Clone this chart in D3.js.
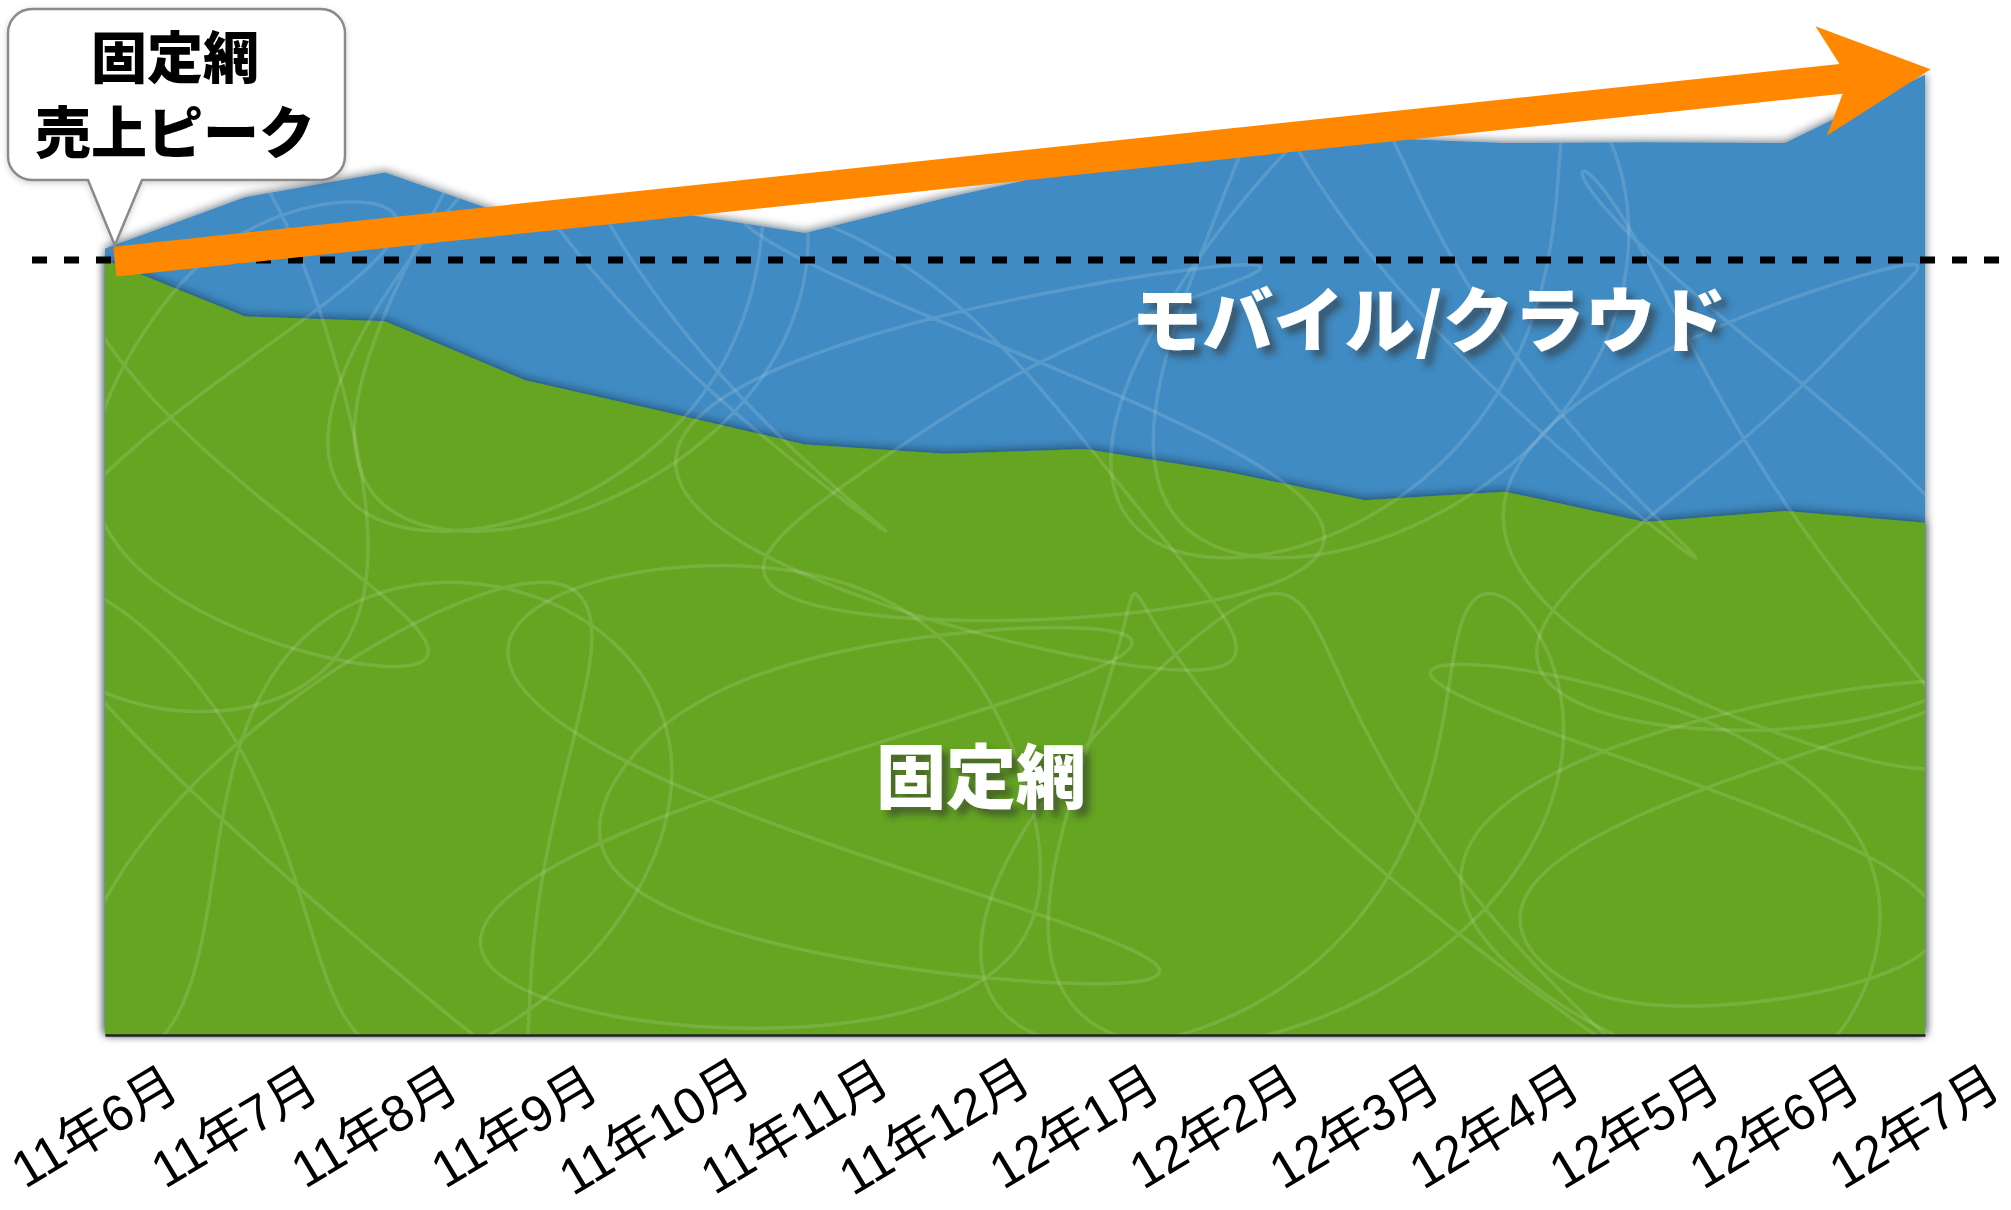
<!DOCTYPE html>
<html><head><meta charset="utf-8">
<script src="https://cdn.jsdelivr.net/npm/d3@7"></script>
<style>
body{margin:0;background:#fff}
svg{display:block}
</style>
</head><body>
<svg id="chart" width="2011" height="1210"></svg>
<script>
// ---------- data ----------
const months = ["11年6月","11年7月","11年8月","11年9月","11年10月","11年11月","11年12月",
                "12年1月","12年2月","12年3月","12年4月","12年5月","12年6月","12年7月"];
const fixedNet    = [100, 92.7, 92.1, 84.5, 80.4, 76.2, 75.0, 75.6, 72.7, 69.0, 70.1, 66.2, 67.6, 66.1];
const mobileCloud = [1.5, 15.4, 19.2, 20.5, 25.9, 27.3, 33.0, 36.4, 41.3, 46.8, 45.0, 49.0, 47.5, 57.8];
const seriesNames = ["固定網", "モバイル/クラウド"];
const calloutLines = ["固定網", "売上ピーク"];
// growth arrow, in (month index, value) units
const arrowFrom = [0.07, 99.8];
const arrowTo   = [13.04, 124.6];
const calloutAnchor = [0.07, 101.9];

// ---------- setup ----------
const W = 2011, H = 1210;
const left = 105, right = 1925, bottom = 1035, peakY = 260;
const svg = d3.select("#chart");

const x = d3.scalePoint().domain(months).range([left, right]);
const xi = d3.scaleLinear().domain([0, months.length - 1]).range([left, right]);
const y = d3.scaleLinear().domain([0, 100]).range([bottom, peakY]);

const table = months.map((m, i) => ({month: m, fixed: fixedNet[i], mobile: mobileCloud[i]}));
const stack = d3.stack().keys(["fixed", "mobile"]);
const layers = stack(table);

const colors = {fixed: "#65a523", mobile: "#418bc3"};

// ---------- defs ----------
const defs = svg.append("defs");
const f1 = defs.append("filter").attr("id", "areaShadow")
  .attr("x", "-5%").attr("y", "-20%").attr("width", "110%").attr("height", "140%");
f1.append("feDropShadow").attr("dx", 0).attr("dy", -1).attr("stdDeviation", 5)
  .attr("flood-color", "#0a1a2a").attr("flood-opacity", 0.65);

const f2 = defs.append("filter").attr("id", "textShadow")
  .attr("x", "-20%").attr("y", "-40%").attr("width", "140%").attr("height", "180%");
f2.append("feDropShadow").attr("dx", 7).attr("dy", 7).attr("stdDeviation", 3.5)
  .attr("flood-color", "#333").attr("flood-opacity", 0.55);

const f3 = defs.append("filter").attr("id", "boxShadow")
  .attr("x", "-10%").attr("y", "-10%").attr("width", "120%").attr("height", "130%");
f3.append("feDropShadow").attr("dx", 0).attr("dy", 2).attr("stdDeviation", 3)
  .attr("flood-color", "#000").attr("flood-opacity", 0.18);

const area = d3.area()
  .x(d => x(d.data.month))
  .y0(d => y(d[0]))
  .y1(d => y(d[1]))
  .curve(d3.curveLinear);

const totalArea = d3.area()
  .x(d => x(d.data.month))
  .y0(y(0))
  .y1(d => y(d[1]));

defs.append("clipPath").attr("id", "totalClip")
  .append("path").attr("d", totalArea(layers[1]));

// ---------- areas ----------
const g = svg.append("g");
g.append("path")
  .attr("d", totalArea(layers[1]))
  .attr("fill", colors.mobile)
  .attr("filter", "url(#areaShadow)");
g.append("path")
  .attr("d", area(layers[0]))
  .attr("fill", colors.fixed)
  .attr("filter", "url(#areaShadow)");

// scribble texture (decorative)
function scribble(cx, cy, rx, ry, a, b, ph, n) {
  const pts = [];
  for (let k = 0; k <= n; k++) {
    const t = k / n * Math.PI * 2;
    pts.push([cx + rx * Math.sin(a * t + ph) + 0.25 * rx * Math.sin(5 * t),
              cy + ry * Math.sin(b * t + ph * 0.5) + 0.2 * ry * Math.cos(3 * t)]);
  }
  return pts;
}
const scribbles = [
  [230, 420, 160, 260, 3, 2, 0.4], [600, 330, 230, 180, 2, 3, 1.1],
  [1000, 440, 260, 200, 3, 2, 2.0], [1400, 330, 240, 210, 2, 3, 0.7],
  [1750, 480, 200, 260, 3, 2, 1.6], [350, 820, 260, 200, 2, 3, 2.4],
  [820, 800, 280, 200, 3, 2, 0.2], [1300, 820, 260, 200, 2, 3, 1.3],
  [1700, 860, 220, 180, 3, 2, 2.8]
];
const tex = svg.append("g").attr("clip-path", "url(#totalClip)");
const lineGen = d3.line().curve(d3.curveCatmullRom);
scribbles.forEach(s => {
  tex.append("path")
    .attr("d", lineGen(scribble(...s, 160)))
    .attr("fill", "none")
    .attr("stroke", "#fff")
    .attr("stroke-opacity", 0.13)
    .attr("stroke-width", 3.5);
});

// ---------- axis ----------
const axis = svg.append("g")
  .attr("transform", `translate(0,${bottom})`)
  .call(d3.axisBottom(x).tickSize(0).tickPadding(0));
axis.select(".domain").attr("stroke", "#222").attr("stroke-width", 2.5);
axis.selectAll(".tick text")
  .attr("y", 0).attr("dy", null)
  .attr("text-anchor", "middle")
  .attr("dominant-baseline", "central")
  .attr("transform", "translate(-11,92) rotate(-31)")
  .style("font-family", "'Liberation Sans','Noto Sans CJK JP',sans-serif")
  .style("font-size", "51px")
  .attr("fill", "#000");

// ---------- peak dashed line ----------
svg.append("line")
  .attr("x1", 32).attr("x2", 2001)
  .attr("y1", y(fixedNet[0])).attr("y2", y(fixedNet[0]))
  .attr("stroke", "#000").attr("stroke-width", 7)
  .attr("stroke-dasharray", "15 17");

// ---------- series labels ----------
const labelFont = "'Noto Sans CJK JP','Noto Sans CJK SC',sans-serif";
svg.append("text")
  .attr("x", 1429).attr("y", 315)
  .attr("text-anchor", "middle").attr("dominant-baseline", "central")
  .style("font-family", labelFont).style("font-size", "71px").style("font-weight", 900)
  .attr("fill", "#fff").attr("filter", "url(#textShadow)")
  .text(seriesNames[1]);
svg.append("text")
  .attr("x", 981).attr("y", 772)
  .attr("text-anchor", "middle").attr("dominant-baseline", "central")
  .style("font-family", labelFont).style("font-size", "70px").style("font-weight", 900)
  .attr("fill", "#fff").attr("filter", "url(#textShadow)")
  .text(seriesNames[0]);

// ---------- growth arrow ----------
(function () {
  const p0 = [xi(arrowFrom[0]), y(arrowFrom[1])];
  const p1 = [xi(arrowTo[0]), y(arrowTo[1])];
  const dx = p1[0] - p0[0], dy = p1[1] - p0[1];
  const L = Math.hypot(dx, dy);
  const u = [dx / L, dy / L], n = [-u[1], u[0]];
  const P = (a, b) => [p0[0] + u[0] * a + n[0] * b, p0[1] + u[1] * a + n[1] * b];
  const half = 15, headLen = 110, barb = 55, notch = 20;
  const pts = [
    P(0, -half), P(L - headLen + notch, -half), P(L - headLen, -barb),
    P(L, 0),
    P(L - headLen, barb), P(L - headLen + notch, half), P(0, half)
  ];
  svg.append("path")
    .attr("d", "M" + pts.map(p => p.join(",")).join("L") + "Z")
    .attr("fill", "#ff8800");
})();

// ---------- callout ----------
(function () {
  const bx0 = 8, by0 = 9, bx1 = 345, by1 = 180, r = 24;
  const tip = [xi(calloutAnchor[0]), y(calloutAnchor[1])];
  const d = `M${bx0 + r},${by0} H${bx1 - r} A${r},${r} 0 0 1 ${bx1},${by0 + r} V${by1 - r}
    A${r},${r} 0 0 1 ${bx1 - r},${by1} H142 L${tip[0]},${tip[1]} L88,${by1} H${bx0 + r}
    A${r},${r} 0 0 1 ${bx0},${by1 - r} V${by0 + r} A${r},${r} 0 0 1 ${bx0 + r},${by0} Z`;
  svg.append("path").attr("d", d)
    .attr("fill", "#fff").attr("stroke", "#8a8a8a").attr("stroke-width", 2.5)
    .attr("filter", "url(#boxShadow)");
  svg.selectAll(".callout").data(calloutLines).enter().append("text")
    .attr("class", "callout")
    .attr("x", 175).attr("y", (d, i) => 53 + i * 75)
    .attr("text-anchor", "middle").attr("dominant-baseline", "central")
    .style("font-family", labelFont).style("font-size", "56px").style("font-weight", 900)
    .attr("fill", "#000")
    .text(d => d);
})();
</script>
</body></html>
